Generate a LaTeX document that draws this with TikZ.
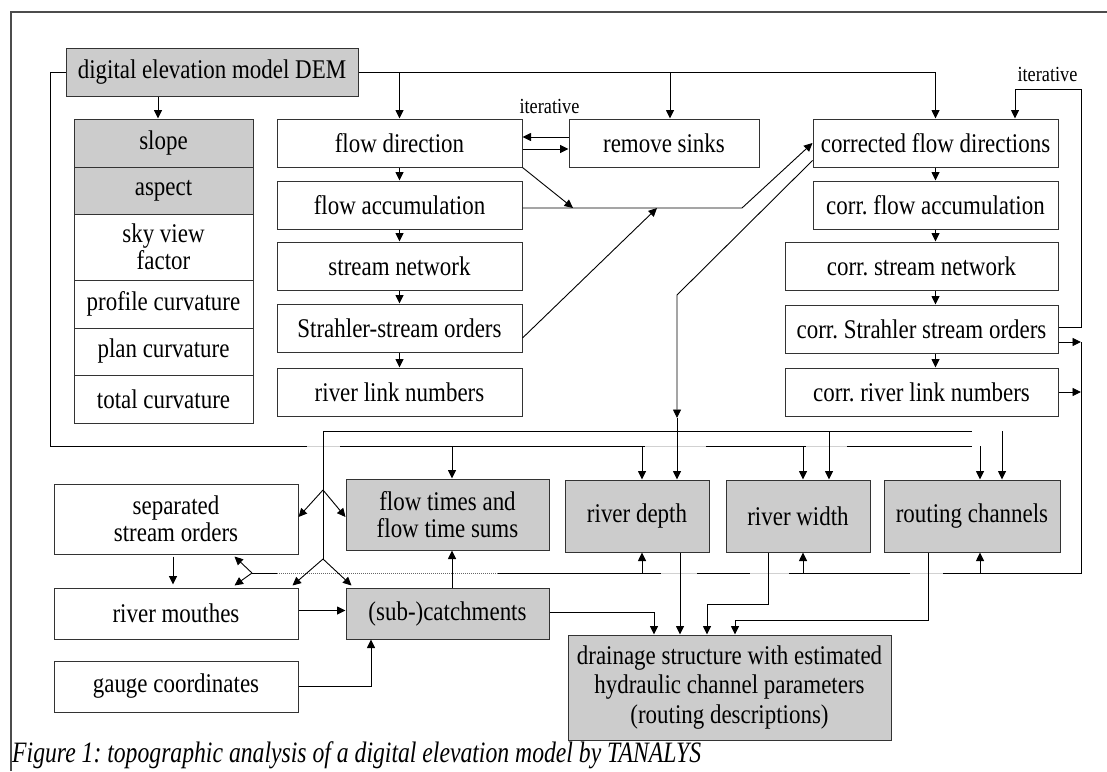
\documentclass[tikz,border=0pt]{standalone}
\usepackage{fontspec}
\setmainfont[FakeStretch=0.85]{Liberation Serif}
\newfontfamily\captionfont[FakeStretch=0.8]{Liberation Serif}
\usetikzlibrary{arrows.meta,calc}
\frenchspacing

\begin{document}
\begin{tikzpicture}[x=1pt,y=-1pt,
  box/.style={draw=black!80, line width=1pt, fill=white, align=center, inner sep=1pt,
              font=\fontsize{27}{27.5}\selectfont},
  gbox/.style={box, fill=black!20},
  lab/.style={inner sep=0pt, font=\fontsize{21.5}{22}\selectfont},
  conn/.style={line width=0.9pt},
  arr/.style={conn, -{Triangle[length=8.5pt,width=8pt]}},
  hop/.style={draw=black!18, line width=1pt},
  wipe/.style={draw=white, line width=2.4pt},
  frame/.style={draw=black!70, line width=1.3pt},
]
\useasboundingbox (0,0) rectangle (1107,771);

% page frame
\draw[frame] (11,771) -- (11,12) -- (1107,12);

% ---------- terrain parameters ----------
\node[gbox, minimum width=292pt, minimum height=48pt] (dem) at (212,72) {digital elevation model DEM};
\node[gbox, minimum width=179pt, minimum height=48pt] (slope) at (163.5,143) {slope};
\node[gbox, minimum width=179pt, minimum height=47pt] (aspect) at (163.5,190.5) {aspect};
\node[box,  minimum width=179pt, minimum height=66pt] (sky) at (163.5,247) {sky view\\factor};
\node[box,  minimum width=179pt, minimum height=48pt] (profile) at (163.5,304) {profile curvature};
\node[box,  minimum width=179pt, minimum height=47pt] (plan) at (163.5,351.5) {plan curvature};
\node[box,  minimum width=179pt, minimum height=48pt] (total) at (163.5,399) {total curvature};

% ---------- first drainage analysis ----------
\node[box, minimum width=245pt, minimum height=48pt] (fdir) at (399.5,143) {flow direction};
\node[box, minimum width=245pt, minimum height=48pt] (facc) at (399.5,205) {flow accumulation};
\node[box, minimum width=245pt, minimum height=48pt] (snet) at (399.5,266) {stream network};
\node[box, minimum width=245pt, minimum height=48pt] (strahler) at (399.5,328) {Strahler-stream orders};
\node[box, minimum width=245pt, minimum height=48pt] (rlink) at (399.5,392) {river link numbers};
\node[box, minimum width=190pt, minimum height=48pt] (sinks) at (664,143) {remove sinks};

% ---------- corrected drainage analysis ----------
\node[box, minimum width=245pt, minimum height=48pt] (cfdir) at (935.5,143) {corrected flow directions};
\node[box, minimum width=245pt, minimum height=48pt] (cfacc) at (935.5,205) {corr. flow accumulation};
\node[box, minimum width=273pt, minimum height=48pt] (csnet) at (921.5,266) {corr. stream network};
\node[box, minimum width=273pt, minimum height=48pt] (cstrahler) at (921.5,329) {corr. Strahler stream orders};
\node[box, minimum width=273pt, minimum height=48pt] (crlink) at (921.5,392) {corr. river link numbers};

% ---------- derived products ----------
\node[box,  minimum width=244pt, minimum height=70pt] (sep) at (176,519) {separated\\stream orders};
\node[gbox, minimum width=203pt, minimum height=71pt] (ftimes) at (447.5,514.5) {flow times and\\flow time sums};
\node[gbox, minimum width=144pt, minimum height=72pt] (rdepth) at (637,516) {river depth};
\node[gbox, minimum width=144pt, minimum height=72pt] (rwidth) at (798,516) {river width};
\node[gbox, minimum width=176pt, minimum height=72pt] (routing) at (972,516) {routing channels};
\node[box,  minimum width=244pt, minimum height=51pt] (mouth) at (176,613.5) {river mouthes};
\node[gbox, minimum width=203pt, minimum height=51pt] (catch) at (447.5,613.5) {(sub-)catchments};
\node[box,  minimum width=244pt, minimum height=51pt] (gauge) at (176,686.5) {gauge coordinates};
\node[gbox, minimum width=323pt, minimum height=105pt, font=\fontsize{27}{29.5}\selectfont] (drain) at (729.5,687.5)
  {drainage structure with estimated\\hydraulic channel parameters\\(routing descriptions)};

\node[lab] (it1) at (549.5,106) {iterative};
\node[lab] (it2) at (1047.5,74) {iterative};

\node[anchor=base west, inner sep=0pt, font=\captionfont\itshape\fontsize{29.6}{31}\selectfont] (cap) at (12,762)
  {Figure 1: topographic analysis of a digital elevation model by TANALYS};

% ---------- junction points ----------
\coordinate (a0) at (50,446);    % DEM bus
\coordinate (b0) at (323,431);   % corrected-directions bus
\coordinate (b2) at (323,490);
\coordinate (b3) at (323,559);
\coordinate (rv) at (1081,573);  % corrected-orders bus
\coordinate (c1) at (252,573);
\coordinate (itc) at (1081,89);
\coordinate (k1) at (742,208);
\coordinate (k2) at (677,295);
\coordinate (k3) at (677,418);
\coordinate (t1) at (573,208);
\coordinate (t2) at (657,208);
\coordinate (w1) at (707,604);
\coordinate (r1) at (735,620);

% ---------- DEM outputs ----------
\draw[arr] ([xshift=-54pt]dem.south) -- ([xshift=-5.5pt]slope.north);
\draw[arr] (dem.east) -| (cfdir.north);
\draw[arr] (fdir.north |- dem.east) -- (fdir.north);
\draw[arr] ([xshift=6pt]sinks.north |- dem.east) -- ([xshift=6pt]sinks.north);

% DEM bus along the bottom
\draw[conn] (dem.west) -| (a0) -- (a0 -| routing.north);
\draw[arr] ([xshift=8pt]routing.north |- a0) -- ([xshift=8pt]routing.north);
\draw[arr] ([xshift=4.5pt]ftimes.north |- a0) -- ([xshift=4.5pt]ftimes.north);
\draw[arr] ([xshift=5pt]rdepth.north |- a0) -- ([xshift=5pt]rdepth.north);
\draw[arr] ([xshift=5pt]rwidth.north |- a0) -- ([xshift=5pt]rwidth.north);
% line hops on the DEM bus
\foreach \p/\q in {307/340, 645/706, 806/847} {
  \draw[wipe] (\p,446) -- (\q,446);
  \draw[hop] (\p,446) -- (\q,446);
}

% ---------- first analysis chain ----------
\draw[arr] (fdir.south) -- (facc.north);
\draw[arr] (facc.south) -- (snet.north);
\draw[arr] (snet.south) -- (strahler.north);
\draw[arr] (strahler.south) -- (rlink.north);
\draw[arr] ([yshift=6pt]sinks.west) -- ([yshift=6pt]sinks.west -| fdir.east);
\draw[arr] ([yshift=-6pt]fdir.east) -- ([yshift=-6pt]fdir.east -| sinks.west);
\draw[arr] (fdir.south east) -- (t1);
\draw[arr] ([yshift=-10pt]strahler.east) -- (t2);
\draw[arr] ([yshift=-3pt]facc.east) -- (k1) -- (cfdir.west);

% ---------- corrected chain ----------
\draw[arr] (cfdir.south) -- (cfacc.north);
\draw[arr] (cfacc.south) -- (cfacc.south |- csnet.north);
\draw[arr] (cfacc.south |- csnet.south) -- (cfacc.south |- cstrahler.north);
\draw[arr] (cfacc.south |- cstrahler.south) -- (cfacc.south |- crlink.north);
\draw[arr] ([yshift=2pt]cstrahler.east) -| (itc) -| ([xshift=79.5pt]cfdir.north);
\draw[arr] ([yshift=-13pt]cstrahler.east) -- ([yshift=-13pt]cstrahler.east -| rv);
\draw[arr] (crlink.east) -- (crlink.east -| rv);

% corrected-orders bus
\draw[conn] ([yshift=-13pt]cstrahler.east -| rv) -- (rv) -- (c1);
\draw[arr] (c1) -- ([xshift=-64pt,yshift=-2pt]sep.south east);
\draw[arr] (c1) -- ([xshift=-64pt,yshift=2pt]mouth.north east);
\draw[arr] ([xshift=5pt]rdepth.south |- rv) -- ([xshift=5pt]rdepth.south);
\draw[arr] ([xshift=5pt]rwidth.south |- rv) -- ([xshift=5pt]rwidth.south);
\draw[arr] ([xshift=8pt]routing.south |- rv) -- ([xshift=8pt]routing.south);
% line hops on the corrected-orders bus
\draw[wipe] (277,573) -- (498,573);
\draw[black!60, line width=0.9pt, dash pattern=on 1pt off 1pt] (277,573) -- (498,573);
\foreach \p/\q in {661/697, 750/789, 910/943} {
  \draw[wipe] (\p,573) -- (\q,573);
  \draw[hop] (\p,573) -- (\q,573);
}

% ---------- corrected flow directions bus ----------
\draw[arr] ([yshift=7pt]cfdir.south west) -- (k2) -- (k3);
\draw[arr] (k3) -- (rdepth.north -| k3);
\draw[conn] (b0) -- (b0 -| routing.north);
\draw[arr] ([xshift=30pt]routing.north |- b0) -- ([xshift=30pt]routing.north);
\draw[arr] ([xshift=31pt]rwidth.north |- b0) -- ([xshift=31pt]rwidth.north);
\draw[conn] (b0) -- (b3);
\draw[arr] (b2) -- ([yshift=2pt]sep.east);
\draw[arr] (b2) -- ([yshift=-2.5pt]ftimes.west);
\draw[arr] (b3) -- ([xshift=-6pt,yshift=2pt]mouth.north east);
\draw[arr] (b3) -- ([xshift=6pt,yshift=2pt]catch.north west);

% ---------- lower block ----------
\draw[arr, shorten <=2pt, shorten >=3pt] ([xshift=-3pt]sep.south) -- ([xshift=-3pt]mouth.north);
\draw[arr] ([yshift=3pt]mouth.east) -- ([yshift=3pt]mouth.east -| catch.west);
\draw[arr] ([xshift=4.5pt]catch.north) -- ([xshift=4.5pt]ftimes.south);
\draw[arr] (gauge.east) -| ([xshift=-76.5pt]catch.south);
\draw[arr] ([yshift=1.5pt]catch.east) -| ([xshift=-75.5pt]drain.north);
\draw[arr] ([xshift=43pt]rdepth.south) -- ([xshift=-49.5pt]drain.north);
\draw[arr] ([xshift=-30pt]rwidth.south) |- (w1) -- ([xshift=-22.5pt]drain.north);
\draw[arr] ([xshift=-44pt]routing.south) |- (r1) -- ([xshift=5.5pt]drain.north);
\end{tikzpicture}
\end{document}
